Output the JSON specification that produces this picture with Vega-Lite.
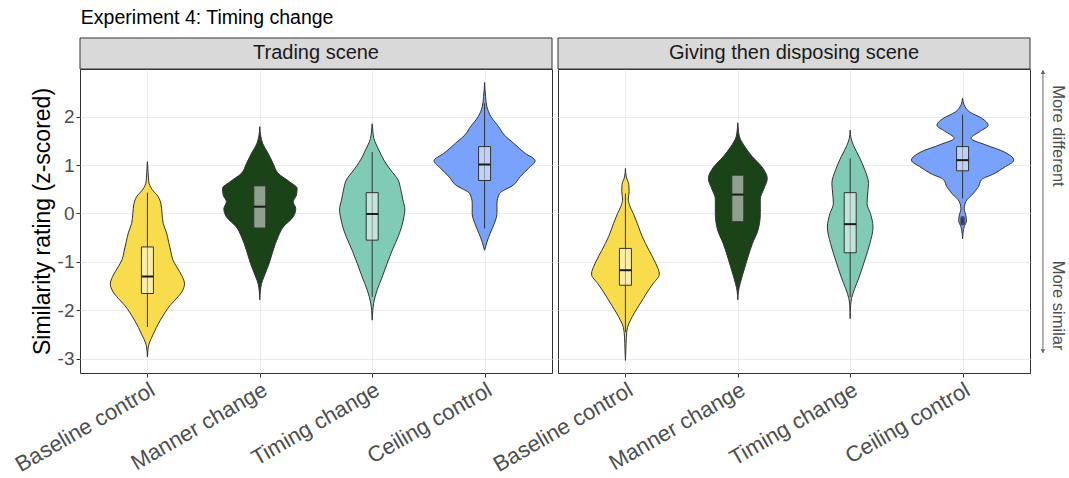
{
  "$schema": "https://vega.github.io/schema/vega-lite/v6.json",
  "padding": {"left": 10, "top": 8, "right": 0, "bottom": 0},
  "title": {"text": "Experiment 4: Timing change", "anchor": "start", "fontSize": 19.5, "fontWeight": "normal", "color": "#000000", "offset": 8, "dx": 70},
  "datasets": {
    "violin": [
      {"scene": "Trading scene", "condition": "Baseline control", "y": 1.07, "halfwidth": 0},
      {"scene": "Trading scene", "condition": "Baseline control", "y": 0.85, "halfwidth": 0.006},
      {"scene": "Trading scene", "condition": "Baseline control", "y": 0.65, "halfwidth": 0.012},
      {"scene": "Trading scene", "condition": "Baseline control", "y": 0.5, "halfwidth": 0.04},
      {"scene": "Trading scene", "condition": "Baseline control", "y": 0.35, "halfwidth": 0.095},
      {"scene": "Trading scene", "condition": "Baseline control", "y": 0.2, "halfwidth": 0.12},
      {"scene": "Trading scene", "condition": "Baseline control", "y": 0.0, "halfwidth": 0.13},
      {"scene": "Trading scene", "condition": "Baseline control", "y": -0.2, "halfwidth": 0.14},
      {"scene": "Trading scene", "condition": "Baseline control", "y": -0.4, "halfwidth": 0.17},
      {"scene": "Trading scene", "condition": "Baseline control", "y": -0.6, "halfwidth": 0.19},
      {"scene": "Trading scene", "condition": "Baseline control", "y": -0.8, "halfwidth": 0.21},
      {"scene": "Trading scene", "condition": "Baseline control", "y": -0.95, "halfwidth": 0.225},
      {"scene": "Trading scene", "condition": "Baseline control", "y": -1.1, "halfwidth": 0.26},
      {"scene": "Trading scene", "condition": "Baseline control", "y": -1.3, "halfwidth": 0.31},
      {"scene": "Trading scene", "condition": "Baseline control", "y": -1.45, "halfwidth": 0.33},
      {"scene": "Trading scene", "condition": "Baseline control", "y": -1.6, "halfwidth": 0.31},
      {"scene": "Trading scene", "condition": "Baseline control", "y": -1.75, "halfwidth": 0.26},
      {"scene": "Trading scene", "condition": "Baseline control", "y": -1.9, "halfwidth": 0.2},
      {"scene": "Trading scene", "condition": "Baseline control", "y": -2.05, "halfwidth": 0.155},
      {"scene": "Trading scene", "condition": "Baseline control", "y": -2.2, "halfwidth": 0.115},
      {"scene": "Trading scene", "condition": "Baseline control", "y": -2.35, "halfwidth": 0.08},
      {"scene": "Trading scene", "condition": "Baseline control", "y": -2.5, "halfwidth": 0.05},
      {"scene": "Trading scene", "condition": "Baseline control", "y": -2.65, "halfwidth": 0.02},
      {"scene": "Trading scene", "condition": "Baseline control", "y": -2.75, "halfwidth": 0.008},
      {"scene": "Trading scene", "condition": "Baseline control", "y": -2.96, "halfwidth": 0},

      {"scene": "Trading scene", "condition": "Manner change", "y": 1.79, "halfwidth": 0},
      {"scene": "Trading scene", "condition": "Manner change", "y": 1.6, "halfwidth": 0.008},
      {"scene": "Trading scene", "condition": "Manner change", "y": 1.45, "halfwidth": 0.025},
      {"scene": "Trading scene", "condition": "Manner change", "y": 1.24, "halfwidth": 0.074},
      {"scene": "Trading scene", "condition": "Manner change", "y": 1.03, "halfwidth": 0.119},
      {"scene": "Trading scene", "condition": "Manner change", "y": 0.83, "halfwidth": 0.163},
      {"scene": "Trading scene", "condition": "Manner change", "y": 0.65, "halfwidth": 0.267},
      {"scene": "Trading scene", "condition": "Manner change", "y": 0.52, "halfwidth": 0.332},
      {"scene": "Trading scene", "condition": "Manner change", "y": 0.38, "halfwidth": 0.326},
      {"scene": "Trading scene", "condition": "Manner change", "y": 0.24, "halfwidth": 0.297},
      {"scene": "Trading scene", "condition": "Manner change", "y": 0.1, "halfwidth": 0.32},
      {"scene": "Trading scene", "condition": "Manner change", "y": -0.07, "halfwidth": 0.297},
      {"scene": "Trading scene", "condition": "Manner change", "y": -0.28, "halfwidth": 0.208},
      {"scene": "Trading scene", "condition": "Manner change", "y": -0.48, "halfwidth": 0.163},
      {"scene": "Trading scene", "condition": "Manner change", "y": -0.76, "halfwidth": 0.119},
      {"scene": "Trading scene", "condition": "Manner change", "y": -1.03, "halfwidth": 0.083},
      {"scene": "Trading scene", "condition": "Manner change", "y": -1.31, "halfwidth": 0.036},
      {"scene": "Trading scene", "condition": "Manner change", "y": -1.45, "halfwidth": 0.015},
      {"scene": "Trading scene", "condition": "Manner change", "y": -1.6, "halfwidth": 0.005},
      {"scene": "Trading scene", "condition": "Manner change", "y": -1.78, "halfwidth": 0},

      {"scene": "Trading scene", "condition": "Timing change", "y": 1.85, "halfwidth": 0},
      {"scene": "Trading scene", "condition": "Timing change", "y": 1.7, "halfwidth": 0.006},
      {"scene": "Trading scene", "condition": "Timing change", "y": 1.55, "halfwidth": 0.015},
      {"scene": "Trading scene", "condition": "Timing change", "y": 1.31, "halfwidth": 0.059},
      {"scene": "Trading scene", "condition": "Timing change", "y": 1.1, "halfwidth": 0.104},
      {"scene": "Trading scene", "condition": "Timing change", "y": 0.9, "halfwidth": 0.163},
      {"scene": "Trading scene", "condition": "Timing change", "y": 0.69, "halfwidth": 0.231},
      {"scene": "Trading scene", "condition": "Timing change", "y": 0.52, "halfwidth": 0.252},
      {"scene": "Trading scene", "condition": "Timing change", "y": 0.28, "halfwidth": 0.273},
      {"scene": "Trading scene", "condition": "Timing change", "y": 0.07, "halfwidth": 0.291},
      {"scene": "Trading scene", "condition": "Timing change", "y": -0.07, "halfwidth": 0.282},
      {"scene": "Trading scene", "condition": "Timing change", "y": -0.28, "halfwidth": 0.261},
      {"scene": "Trading scene", "condition": "Timing change", "y": -0.48, "halfwidth": 0.231},
      {"scene": "Trading scene", "condition": "Timing change", "y": -0.76, "halfwidth": 0.178},
      {"scene": "Trading scene", "condition": "Timing change", "y": -1.03, "halfwidth": 0.133},
      {"scene": "Trading scene", "condition": "Timing change", "y": -1.31, "halfwidth": 0.089},
      {"scene": "Trading scene", "condition": "Timing change", "y": -1.58, "halfwidth": 0.044},
      {"scene": "Trading scene", "condition": "Timing change", "y": -1.86, "halfwidth": 0.012},
      {"scene": "Trading scene", "condition": "Timing change", "y": -2.0, "halfwidth": 0.005},
      {"scene": "Trading scene", "condition": "Timing change", "y": -2.2, "halfwidth": 0},

      {"scene": "Trading scene", "condition": "Ceiling control", "y": 2.7, "halfwidth": 0},
      {"scene": "Trading scene", "condition": "Ceiling control", "y": 2.41, "halfwidth": 0.009},
      {"scene": "Trading scene", "condition": "Ceiling control", "y": 2.2, "halfwidth": 0.021},
      {"scene": "Trading scene", "condition": "Ceiling control", "y": 2.0, "halfwidth": 0.056},
      {"scene": "Trading scene", "condition": "Ceiling control", "y": 1.79, "halfwidth": 0.125},
      {"scene": "Trading scene", "condition": "Ceiling control", "y": 1.62, "halfwidth": 0.175},
      {"scene": "Trading scene", "condition": "Ceiling control", "y": 1.45, "halfwidth": 0.258},
      {"scene": "Trading scene", "condition": "Ceiling control", "y": 1.24, "halfwidth": 0.362},
      {"scene": "Trading scene", "condition": "Ceiling control", "y": 1.09, "halfwidth": 0.45},
      {"scene": "Trading scene", "condition": "Ceiling control", "y": 0.93, "halfwidth": 0.391},
      {"scene": "Trading scene", "condition": "Ceiling control", "y": 0.76, "halfwidth": 0.317},
      {"scene": "Trading scene", "condition": "Ceiling control", "y": 0.59, "halfwidth": 0.258},
      {"scene": "Trading scene", "condition": "Ceiling control", "y": 0.41, "halfwidth": 0.133},
      {"scene": "Trading scene", "condition": "Ceiling control", "y": 0.21, "halfwidth": 0.11},
      {"scene": "Trading scene", "condition": "Ceiling control", "y": 0.0, "halfwidth": 0.11},
      {"scene": "Trading scene", "condition": "Ceiling control", "y": -0.21, "halfwidth": 0.086},
      {"scene": "Trading scene", "condition": "Ceiling control", "y": -0.41, "halfwidth": 0.05},
      {"scene": "Trading scene", "condition": "Ceiling control", "y": -0.59, "halfwidth": 0.021},
      {"scene": "Trading scene", "condition": "Ceiling control", "y": -0.76, "halfwidth": 0},

      {"scene": "Giving then disposing scene", "condition": "Baseline control", "y": 0.93, "halfwidth": 0},
      {"scene": "Giving then disposing scene", "condition": "Baseline control", "y": 0.75, "halfwidth": 0.008},
      {"scene": "Giving then disposing scene", "condition": "Baseline control", "y": 0.6, "halfwidth": 0.03},
      {"scene": "Giving then disposing scene", "condition": "Baseline control", "y": 0.45, "halfwidth": 0.033},
      {"scene": "Giving then disposing scene", "condition": "Baseline control", "y": 0.3, "halfwidth": 0.025},
      {"scene": "Giving then disposing scene", "condition": "Baseline control", "y": 0.15, "halfwidth": 0.04},
      {"scene": "Giving then disposing scene", "condition": "Baseline control", "y": 0.0, "halfwidth": 0.07},
      {"scene": "Giving then disposing scene", "condition": "Baseline control", "y": -0.2, "halfwidth": 0.105},
      {"scene": "Giving then disposing scene", "condition": "Baseline control", "y": -0.48, "halfwidth": 0.15},
      {"scene": "Giving then disposing scene", "condition": "Baseline control", "y": -0.76, "halfwidth": 0.21},
      {"scene": "Giving then disposing scene", "condition": "Baseline control", "y": -1.03, "halfwidth": 0.27},
      {"scene": "Giving then disposing scene", "condition": "Baseline control", "y": -1.25, "halfwidth": 0.302},
      {"scene": "Giving then disposing scene", "condition": "Baseline control", "y": -1.45, "halfwidth": 0.245},
      {"scene": "Giving then disposing scene", "condition": "Baseline control", "y": -1.6, "halfwidth": 0.2},
      {"scene": "Giving then disposing scene", "condition": "Baseline control", "y": -1.75, "halfwidth": 0.16},
      {"scene": "Giving then disposing scene", "condition": "Baseline control", "y": -1.9, "halfwidth": 0.12},
      {"scene": "Giving then disposing scene", "condition": "Baseline control", "y": -2.05, "halfwidth": 0.08},
      {"scene": "Giving then disposing scene", "condition": "Baseline control", "y": -2.2, "halfwidth": 0.045},
      {"scene": "Giving then disposing scene", "condition": "Baseline control", "y": -2.35, "halfwidth": 0.018},
      {"scene": "Giving then disposing scene", "condition": "Baseline control", "y": -2.55, "halfwidth": 0.008},
      {"scene": "Giving then disposing scene", "condition": "Baseline control", "y": -2.8, "halfwidth": 0.004},
      {"scene": "Giving then disposing scene", "condition": "Baseline control", "y": -3.03, "halfwidth": 0},

      {"scene": "Giving then disposing scene", "condition": "Manner change", "y": 1.87, "halfwidth": 0},
      {"scene": "Giving then disposing scene", "condition": "Manner change", "y": 1.7, "halfwidth": 0.006},
      {"scene": "Giving then disposing scene", "condition": "Manner change", "y": 1.58, "halfwidth": 0.015},
      {"scene": "Giving then disposing scene", "condition": "Manner change", "y": 1.38, "halfwidth": 0.062},
      {"scene": "Giving then disposing scene", "condition": "Manner change", "y": 1.17, "halfwidth": 0.13},
      {"scene": "Giving then disposing scene", "condition": "Manner change", "y": 0.96, "halfwidth": 0.215},
      {"scene": "Giving then disposing scene", "condition": "Manner change", "y": 0.72, "halfwidth": 0.262},
      {"scene": "Giving then disposing scene", "condition": "Manner change", "y": 0.5, "halfwidth": 0.23},
      {"scene": "Giving then disposing scene", "condition": "Manner change", "y": 0.3, "halfwidth": 0.2},
      {"scene": "Giving then disposing scene", "condition": "Manner change", "y": 0.0, "halfwidth": 0.2},
      {"scene": "Giving then disposing scene", "condition": "Manner change", "y": -0.34, "halfwidth": 0.18},
      {"scene": "Giving then disposing scene", "condition": "Manner change", "y": -0.62, "halfwidth": 0.13},
      {"scene": "Giving then disposing scene", "condition": "Manner change", "y": -0.9, "halfwidth": 0.09},
      {"scene": "Giving then disposing scene", "condition": "Manner change", "y": -1.17, "halfwidth": 0.055},
      {"scene": "Giving then disposing scene", "condition": "Manner change", "y": -1.45, "halfwidth": 0.02},
      {"scene": "Giving then disposing scene", "condition": "Manner change", "y": -1.6, "halfwidth": 0.006},
      {"scene": "Giving then disposing scene", "condition": "Manner change", "y": -1.78, "halfwidth": 0},

      {"scene": "Giving then disposing scene", "condition": "Timing change", "y": 1.72, "halfwidth": 0},
      {"scene": "Giving then disposing scene", "condition": "Timing change", "y": 1.55, "halfwidth": 0.008},
      {"scene": "Giving then disposing scene", "condition": "Timing change", "y": 1.4, "halfwidth": 0.03},
      {"scene": "Giving then disposing scene", "condition": "Timing change", "y": 1.17, "halfwidth": 0.08},
      {"scene": "Giving then disposing scene", "condition": "Timing change", "y": 0.9, "halfwidth": 0.13},
      {"scene": "Giving then disposing scene", "condition": "Timing change", "y": 0.62, "halfwidth": 0.163},
      {"scene": "Giving then disposing scene", "condition": "Timing change", "y": 0.4, "halfwidth": 0.155},
      {"scene": "Giving then disposing scene", "condition": "Timing change", "y": 0.2, "halfwidth": 0.15},
      {"scene": "Giving then disposing scene", "condition": "Timing change", "y": 0.0, "halfwidth": 0.18},
      {"scene": "Giving then disposing scene", "condition": "Timing change", "y": -0.28, "halfwidth": 0.203},
      {"scene": "Giving then disposing scene", "condition": "Timing change", "y": -0.62, "halfwidth": 0.175},
      {"scene": "Giving then disposing scene", "condition": "Timing change", "y": -0.96, "halfwidth": 0.13},
      {"scene": "Giving then disposing scene", "condition": "Timing change", "y": -1.31, "halfwidth": 0.08},
      {"scene": "Giving then disposing scene", "condition": "Timing change", "y": -1.55, "halfwidth": 0.04},
      {"scene": "Giving then disposing scene", "condition": "Timing change", "y": -1.75, "halfwidth": 0.012},
      {"scene": "Giving then disposing scene", "condition": "Timing change", "y": -1.9, "halfwidth": 0.004},
      {"scene": "Giving then disposing scene", "condition": "Timing change", "y": -2.17, "halfwidth": 0},

      {"scene": "Giving then disposing scene", "condition": "Ceiling control", "y": 2.38, "halfwidth": 0},
      {"scene": "Giving then disposing scene", "condition": "Ceiling control", "y": 2.25, "halfwidth": 0.012},
      {"scene": "Giving then disposing scene", "condition": "Ceiling control", "y": 2.1, "halfwidth": 0.06},
      {"scene": "Giving then disposing scene", "condition": "Ceiling control", "y": 1.95, "halfwidth": 0.18},
      {"scene": "Giving then disposing scene", "condition": "Ceiling control", "y": 1.82, "halfwidth": 0.228},
      {"scene": "Giving then disposing scene", "condition": "Ceiling control", "y": 1.7, "halfwidth": 0.16},
      {"scene": "Giving then disposing scene", "condition": "Ceiling control", "y": 1.55, "halfwidth": 0.075},
      {"scene": "Giving then disposing scene", "condition": "Ceiling control", "y": 1.42, "halfwidth": 0.2},
      {"scene": "Giving then disposing scene", "condition": "Ceiling control", "y": 1.27, "halfwidth": 0.37},
      {"scene": "Giving then disposing scene", "condition": "Ceiling control", "y": 1.1, "halfwidth": 0.455},
      {"scene": "Giving then disposing scene", "condition": "Ceiling control", "y": 0.95, "halfwidth": 0.37},
      {"scene": "Giving then disposing scene", "condition": "Ceiling control", "y": 0.82, "halfwidth": 0.28},
      {"scene": "Giving then disposing scene", "condition": "Ceiling control", "y": 0.7, "halfwidth": 0.17},
      {"scene": "Giving then disposing scene", "condition": "Ceiling control", "y": 0.55, "halfwidth": 0.14},
      {"scene": "Giving then disposing scene", "condition": "Ceiling control", "y": 0.4, "halfwidth": 0.09},
      {"scene": "Giving then disposing scene", "condition": "Ceiling control", "y": 0.25, "halfwidth": 0.03},
      {"scene": "Giving then disposing scene", "condition": "Ceiling control", "y": 0.1, "halfwidth": 0.015},
      {"scene": "Giving then disposing scene", "condition": "Ceiling control", "y": -0.05, "halfwidth": 0.03},
      {"scene": "Giving then disposing scene", "condition": "Ceiling control", "y": -0.15, "halfwidth": 0.035},
      {"scene": "Giving then disposing scene", "condition": "Ceiling control", "y": -0.27, "halfwidth": 0.015},
      {"scene": "Giving then disposing scene", "condition": "Ceiling control", "y": -0.38, "halfwidth": 0.005},
      {"scene": "Giving then disposing scene", "condition": "Ceiling control", "y": -0.52, "halfwidth": 0}
    ],
    "box": [
      {"scene": "Trading scene", "condition": "Baseline control", "lower": -2.34, "q1": -1.65, "median": -1.3, "q3": -0.69, "upper": 0.43},
      {"scene": "Trading scene", "condition": "Manner change", "lower": -1.35, "q1": -0.3, "median": 0.14, "q3": 0.57, "upper": 1.28},
      {"scene": "Trading scene", "condition": "Timing change", "lower": -1.72, "q1": -0.55, "median": -0.01, "q3": 0.43, "upper": 1.27},
      {"scene": "Trading scene", "condition": "Ceiling control", "lower": -0.31, "q1": 0.68, "median": 1.01, "q3": 1.38, "upper": 2.27},
      {"scene": "Giving then disposing scene", "condition": "Baseline control", "lower": -2.45, "q1": -1.48, "median": -1.17, "q3": -0.72, "upper": 0.41},
      {"scene": "Giving then disposing scene", "condition": "Manner change", "lower": -1.4, "q1": -0.17, "median": 0.39, "q3": 0.79, "upper": 1.5},
      {"scene": "Giving then disposing scene", "condition": "Timing change", "lower": -1.72, "q1": -0.81, "median": -0.22, "q3": 0.43, "upper": 1.14},
      {"scene": "Giving then disposing scene", "condition": "Ceiling control", "lower": 0.31, "q1": 0.88, "median": 1.1, "q3": 1.38, "upper": 2.04}
    ],
    "outliers": [
      {"scene": "Giving then disposing scene", "condition": "Ceiling control", "y": -0.1},
      {"scene": "Giving then disposing scene", "condition": "Ceiling control", "y": -0.15},
      {"scene": "Giving then disposing scene", "condition": "Ceiling control", "y": -0.2}
    ],
    "notes": [
      {"label": "More different", "y": 1.6},
      {"label": "More similar", "y": -1.9}
    ]
  },
  "hconcat": [
    {
      "width": 472, "height": 304,
      "layer": [
        {
          "data": {"values": [{"scene": "Trading scene"}]},
          "layer": [
            {
              "mark": {"type": "rect", "fill": "#d9d9d9", "stroke": "#333333", "strokeWidth": 1},
              "encoding": {"x": {"datum": 0.4, "type": "quantitative"}, "x2": {"datum": 4.6}, "y": {"datum": 2.98, "type": "quantitative"}, "y2": {"datum": 3.62}}
            },
            {
              "mark": {"type": "text", "fontSize": 20, "color": "#1a1a1a", "baseline": "middle"},
              "encoding": {"x": {"datum": 2.5, "type": "quantitative"}, "y": {"datum": 3.3, "type": "quantitative"}, "text": {"field": "scene"}}
            }
          ]
        },
        {
          "data": {"name": "violin"},
          "transform": [
            {"filter": "datum.scene === 'Trading scene'"},
            {"calculate": "indexof(['Baseline control','Manner change','Timing change','Ceiling control'], datum.condition) + 1", "as": "pos"},
            {"calculate": "datum.pos - datum.halfwidth", "as": "left"},
            {"calculate": "datum.pos + datum.halfwidth", "as": "right"}
          ],
          "mark": {"type": "area", "orient": "horizontal", "interpolate": "monotone", "stroke": "#333333", "strokeWidth": 1, "fillOpacity": 1},
          "encoding": {
            "y": {"field": "y", "type": "quantitative",
                  "scale": {"domain": [-3.29, 2.98], "nice": false, "zero": false, "padding": 0},
                  "axis": {"title": "Similarity rating (z-scored)", "values": [-3, -2.5, -2, -1.5, -1, -0.5, 0, 0.5, 1, 1.5, 2, 2.5],
                           "labelExpr": "datum.value % 1 === 0 ? '' + datum.value : ''",
                           "gridWidth": {"condition": {"test": "datum.value % 1 !== 0", "value": 0.7}, "value": 1.2},
                           "tickOpacity": {"condition": {"test": "datum.value % 1 !== 0", "value": 0}, "value": 1}}},
            "x": {"field": "left", "type": "quantitative",
                  "scale": {"domain": [0.4, 4.6], "nice": false, "zero": false, "padding": 0},
                  "axis": {"title": null, "values": [1, 2, 3, 4], "labelOverlap": false,
                           "labelExpr": "['Baseline control','Manner change','Timing change','Ceiling control'][datum.value - 1]",
                           "labelAngle": -30, "labelAlign": "right", "labelBaseline": "top", "labelFontSize": 22}},
            "x2": {"field": "right"},
            "fill": {"field": "condition", "type": "nominal",
                     "scale": {"domain": ["Baseline control", "Manner change", "Timing change", "Ceiling control"],
                               "range": ["#f8dc4b", "#1a4318", "#80cbb6", "#78a2fb"]}, "legend": null},
            "detail": {"field": "condition"}
          }
        },
        {
          "data": {"name": "box"},
          "transform": [
            {"filter": "datum.scene === 'Trading scene'"},
            {"calculate": "indexof(['Baseline control','Manner change','Timing change','Ceiling control'], datum.condition) + 1", "as": "pos"}
          ],
          "layer": [
            {"mark": {"type": "rule", "color": "#333333", "strokeWidth": 1},
             "encoding": {"x": {"field": "pos", "type": "quantitative"}, "y": {"field": "lower", "type": "quantitative"}, "y2": {"field": "upper"}}},
            {"mark": {"type": "bar", "width": 12, "fill": "#ffffff", "fillOpacity": 0.5, "stroke": "#333333", "strokeWidth": 1},
             "encoding": {"x": {"field": "pos", "type": "quantitative"}, "y": {"field": "q1", "type": "quantitative"}, "y2": {"field": "q3"}}},
            {"mark": {"type": "tick", "orient": "horizontal", "size": 12, "thickness": 2, "color": "#1a1a1a", "opacity": 1},
             "encoding": {"x": {"field": "pos", "type": "quantitative"}, "y": {"field": "median", "type": "quantitative"}}}
          ]
        }
      ]
    },
    {
      "width": 472, "height": 304,
      "layer": [
        {
          "data": {"values": [{"scene": "Giving then disposing scene"}]},
          "layer": [
            {
              "mark": {"type": "rect", "fill": "#d9d9d9", "stroke": "#333333", "strokeWidth": 1},
              "encoding": {"x": {"datum": 0.4, "type": "quantitative"}, "x2": {"datum": 4.6}, "y": {"datum": 2.98, "type": "quantitative"}, "y2": {"datum": 3.62}}
            },
            {
              "mark": {"type": "text", "fontSize": 20, "color": "#1a1a1a", "baseline": "middle"},
              "encoding": {"x": {"datum": 2.5, "type": "quantitative"}, "y": {"datum": 3.3, "type": "quantitative"}, "text": {"field": "scene"}}
            }
          ]
        },
        {
          "data": {"name": "violin"},
          "transform": [
            {"filter": "datum.scene === 'Giving then disposing scene'"},
            {"calculate": "indexof(['Baseline control','Manner change','Timing change','Ceiling control'], datum.condition) + 1", "as": "pos"},
            {"calculate": "datum.pos - datum.halfwidth", "as": "left"},
            {"calculate": "datum.pos + datum.halfwidth", "as": "right"}
          ],
          "mark": {"type": "area", "orient": "horizontal", "interpolate": "monotone", "stroke": "#333333", "strokeWidth": 1, "fillOpacity": 1},
          "encoding": {
            "y": {"field": "y", "type": "quantitative",
                  "scale": {"domain": [-3.29, 2.98], "nice": false, "zero": false, "padding": 0},
                  "axis": {"title": null, "labels": false, "ticks": false, "values": [-3, -2.5, -2, -1.5, -1, -0.5, 0, 0.5, 1, 1.5, 2, 2.5],
                           "gridWidth": {"condition": {"test": "datum.value % 1 !== 0", "value": 0.7}, "value": 1.2}}},
            "x": {"field": "left", "type": "quantitative",
                  "scale": {"domain": [0.4, 4.6], "nice": false, "zero": false, "padding": 0},
                  "axis": {"title": null, "values": [1, 2, 3, 4], "labelOverlap": false,
                           "labelExpr": "['Baseline control','Manner change','Timing change','Ceiling control'][datum.value - 1]",
                           "labelAngle": -30, "labelAlign": "right", "labelBaseline": "top", "labelFontSize": 22}},
            "x2": {"field": "right"},
            "fill": {"field": "condition", "type": "nominal",
                     "scale": {"domain": ["Baseline control", "Manner change", "Timing change", "Ceiling control"],
                               "range": ["#f8dc4b", "#1a4318", "#80cbb6", "#78a2fb"]}, "legend": null},
            "detail": {"field": "condition"}
          }
        },
        {
          "data": {"name": "box"},
          "transform": [
            {"filter": "datum.scene === 'Giving then disposing scene'"},
            {"calculate": "indexof(['Baseline control','Manner change','Timing change','Ceiling control'], datum.condition) + 1", "as": "pos"}
          ],
          "layer": [
            {"mark": {"type": "rule", "color": "#333333", "strokeWidth": 1},
             "encoding": {"x": {"field": "pos", "type": "quantitative"}, "y": {"field": "lower", "type": "quantitative"}, "y2": {"field": "upper"}}},
            {"mark": {"type": "bar", "width": 12, "fill": "#ffffff", "fillOpacity": 0.5, "stroke": "#333333", "strokeWidth": 1},
             "encoding": {"x": {"field": "pos", "type": "quantitative"}, "y": {"field": "q1", "type": "quantitative"}, "y2": {"field": "q3"}}},
            {"mark": {"type": "tick", "orient": "horizontal", "size": 12, "thickness": 2, "color": "#1a1a1a", "opacity": 1},
             "encoding": {"x": {"field": "pos", "type": "quantitative"}, "y": {"field": "median", "type": "quantitative"}}}
          ]
        },
        {
          "data": {"name": "outliers"},
          "transform": [
            {"calculate": "indexof(['Baseline control','Manner change','Timing change','Ceiling control'], datum.condition) + 1", "as": "pos"}
          ],
          "mark": {"type": "point", "filled": true, "size": 22, "color": "#2b3550", "opacity": 0.8},
          "encoding": {"x": {"field": "pos", "type": "quantitative"}, "y": {"field": "y", "type": "quantitative"}}
        },
        {
          "data": {"values": [{"label": "similarity direction"}]},
          "mark": {"type": "rule", "color": "#666666", "strokeWidth": 1},
          "encoding": {"x": {"datum": 4.715, "type": "quantitative"}, "y": {"datum": 2.95, "type": "quantitative"}, "y2": {"datum": -2.87}}
        },
        {
          "data": {"values": [{"end": "top", "y": 2.92}, {"end": "bottom", "y": -2.84}]},
          "mark": {"type": "point", "filled": true, "size": 22, "color": "#666666", "opacity": 1},
          "encoding": {
            "x": {"datum": 4.715, "type": "quantitative"},
            "y": {"field": "y", "type": "quantitative"},
            "shape": {"field": "end", "type": "nominal", "scale": {"domain": ["top", "bottom"], "range": ["triangle-up", "triangle-down"]}, "legend": null}
          }
        },
        {
          "data": {"name": "notes"},
          "mark": {"type": "text", "angle": 90, "fontSize": 16.5, "color": "#4d4d4d", "align": "center", "baseline": "middle"},
          "encoding": {"x": {"datum": 4.85, "type": "quantitative"}, "y": {"field": "y", "type": "quantitative"}, "text": {"field": "label"}}
        }
      ]
    }
  ],
  "spacing": 6,
  "bounds": "flush",
  "config": {
    "font": "Liberation Sans",
    "view": {"stroke": "#333333", "strokeWidth": 1},
    "axis": {"domain": false, "grid": true, "gridColor": "#ebebeb", "tickColor": "#333333", "tickSize": 4, "tickWidth": 1,
             "labelColor": "#4d4d4d", "labelFontSize": 19, "labelPadding": 2,
             "titleFontSize": 23, "titleFontWeight": "normal", "titleColor": "#000000", "titlePadding": 3}
  }
}
